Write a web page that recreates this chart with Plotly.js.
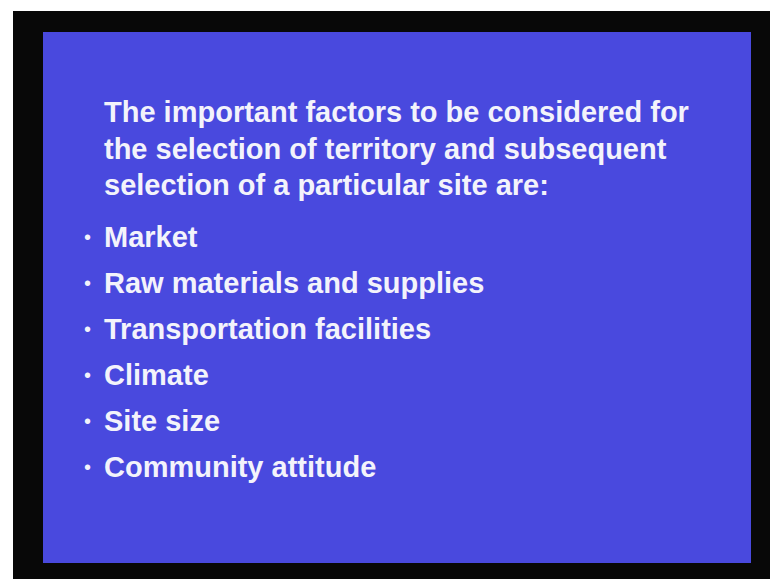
<!DOCTYPE html>
<html>
<head>
<meta charset="utf-8">
<script src="https://cdn.plot.ly/plotly-3.0.1.min.js"></script>
<style>
html,body{margin:0;padding:0;background:#ffffff;}
#chart{width:770px;height:579px;}
</style>
</head>
<body>
<div id="chart"></div>
<script>
// Slide content
var headingLines = [
  "The important factors to be considered for",
  "the selection of territory and subsequent",
  "selection of a particular site are:"
];
var bulletItems = [
  "Market",
  "Raw materials and supplies",
  "Transportation facilities",
  "Climate",
  "Site size",
  "Community attitude"
];

var W = 770, H = 579;
var FONT = "Liberation Sans, Arial, sans-serif";
var FS = 29;
var textColor = "#f3f3fb";

var headingX = 102, headingY0 = 112, headingStep = 36.5;
var bulletDotX = 82, bulletTextX = 102, bulletY0 = 237, bulletStep = 46;

function bold(t) { return "<b>" + t + "</b>"; }

var annotations = [];
headingLines.forEach(function (t, i) {
  annotations.push({
    x: headingX, y: headingY0 + i * headingStep, xref: "x", yref: "y",
    text: bold(t), showarrow: false, xanchor: "left", yanchor: "middle",
    font: {family: FONT, size: FS, color: textColor}
  });
});
bulletItems.forEach(function (t, i) {
  var yy = bulletY0 + i * bulletStep;
  annotations.push({
    x: bulletDotX, y: yy, xref: "x", yref: "y",
    text: "•", showarrow: false, xanchor: "left", yanchor: "middle",
    font: {family: FONT, size: 20, color: textColor}
  });
  annotations.push({
    x: bulletTextX, y: yy, xref: "x", yref: "y",
    text: bold(t), showarrow: false, xanchor: "left", yanchor: "middle",
    font: {family: FONT, size: FS, color: textColor}
  });
});

var shapes = [
  {type: "rect", xref: "x", yref: "y", x0: 13, x1: 770, y0: 11, y1: 579,
   fillcolor: "#080808", line: {width: 0}, layer: "below"},
  {type: "rect", xref: "x", yref: "y", x0: 43, x1: 751, y0: 32, y1: 563,
   fillcolor: "#4949de", line: {width: 0}, layer: "below"}
];

var layout = {
  width: W, height: H, autosize: false,
  margin: {l: 0, r: 0, t: 0, b: 0, pad: 0},
  paper_bgcolor: "#ffffff", plot_bgcolor: "#ffffff",
  xaxis: {range: [0, W], visible: false, fixedrange: true},
  yaxis: {range: [H, 0], visible: false, fixedrange: true},
  shapes: shapes,
  annotations: annotations,
  showlegend: false
};

Plotly.newPlot("chart", [{x: [], y: [], type: "scatter", hoverinfo: "skip"}], layout, {displayModeBar: false, staticPlot: true});
</script>
</body>
</html>
